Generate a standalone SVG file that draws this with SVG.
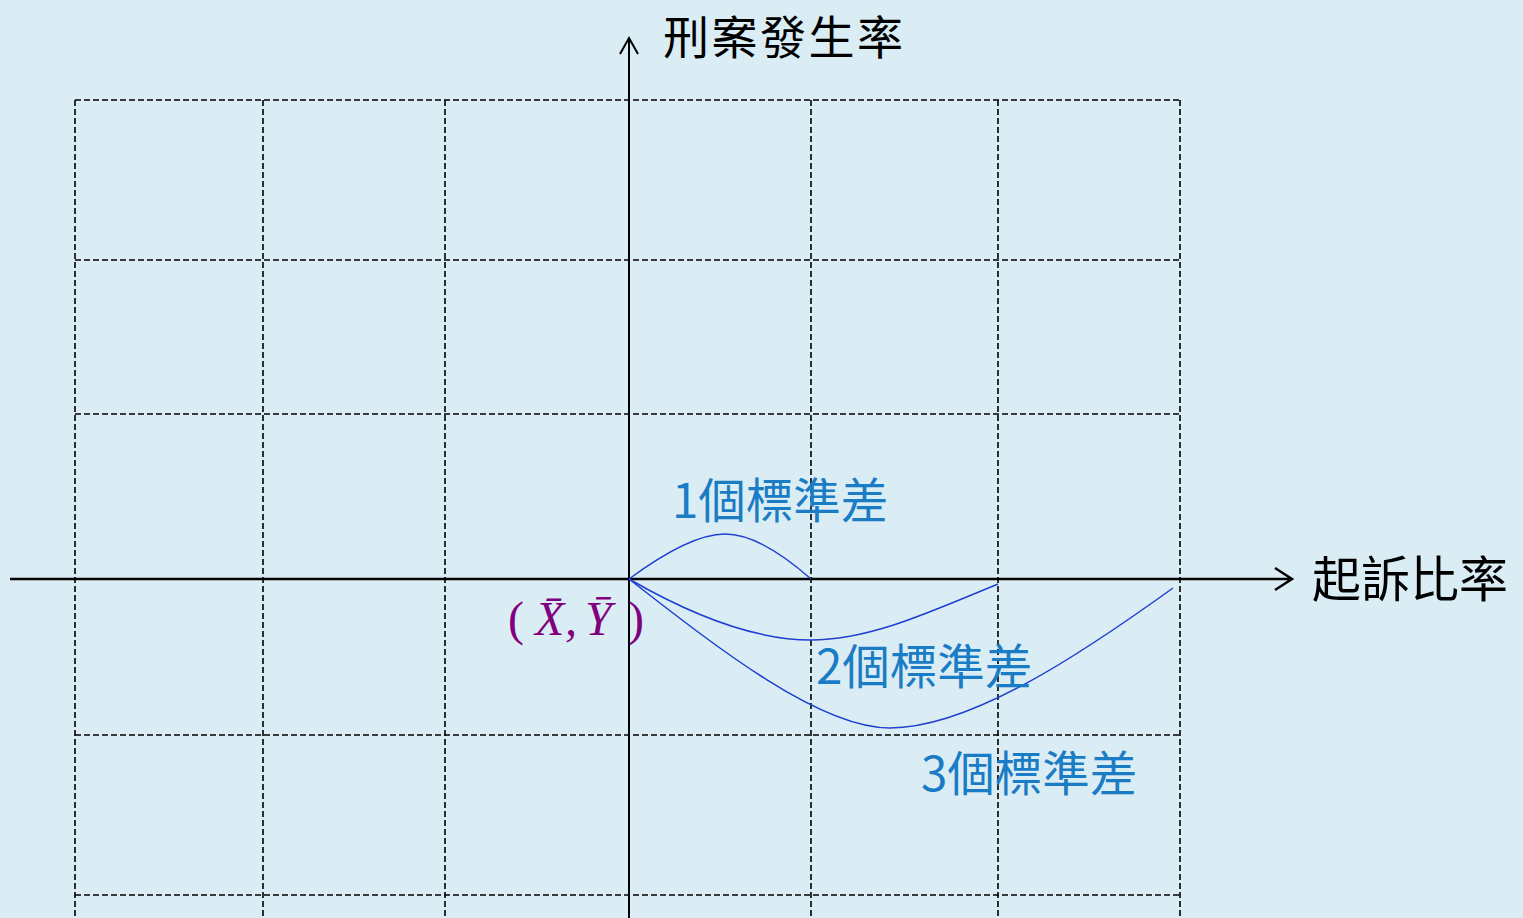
<svg xmlns="http://www.w3.org/2000/svg" width="1523" height="918" viewBox="0 0 1523 918">
<style>
.grid{stroke:#000;stroke-width:1.6;stroke-dasharray:6 3;fill:none}
.axis{stroke:#000;fill:none}
.curve{stroke:#1f3fd0;stroke-width:1.5;fill:none}
.lbl{font-family:"Noto Sans CJK TC","Noto Sans CJK SC",sans-serif;fill:#000}
.sd{font-family:"Noto Sans CJK TC","Noto Sans CJK SC",sans-serif;fill:#1a7cc4;font-size:47.5px}
.pt{font-family:"Liberation Serif",serif;fill:#800080;font-style:italic;font-size:48px}
</style>
<rect width="1523" height="918" fill="#daedf4"/>
<g id="grid" class="grid">
<path d="M75,100V918M263,100V918M445,100V918M811,100V918M998,100V918M1180,100V918"/>
<path d="M75,100H1180M75,260H1180M75,414H1180M75,735H1180M75,895H1180"/>
</g>
<g id="connectors">
<path class="axis" stroke-width="2" d="M629,918V38M620,54L629,38L638,54"/>
<path class="axis" stroke-width="2.5" d="M10,579H1292M1275,568L1292,579L1275,590"/>
<path class="curve" d="M629,579Q690,534 725,534Q760,534 811,579"/>
<path class="curve" d="M629,579C700,620 760,640 811,640C870,640 930,612 998,584"/>
<path class="curve" d="M629,579C720,650 820,728 890,728C970,728 1080,655 1173,588"/>
</g>
<g id="y-label"><text class="lbl" x="663" y="54" font-size="46" letter-spacing="2.5">刑案發生率</text></g>
<g id="x-label"><text class="lbl" x="1312" y="597" font-size="49">起訴比率</text></g>
<g id="sd1"><text class="sd" x="672" y="518">1個標準差</text></g>
<g id="sd2"><text class="sd" x="816" y="684">2個標準差</text></g>
<g id="sd3"><text class="sd" x="921" y="791">3個標準差</text></g>
<g id="mean"><text class="pt" y="635"><tspan x="508" font-style="normal" font-weight="lighter">(</tspan><tspan x="535">X̄</tspan><tspan x="565">,</tspan><tspan x="585">Ȳ</tspan><tspan x="628" font-style="normal">)</tspan></text></g>
</svg>
